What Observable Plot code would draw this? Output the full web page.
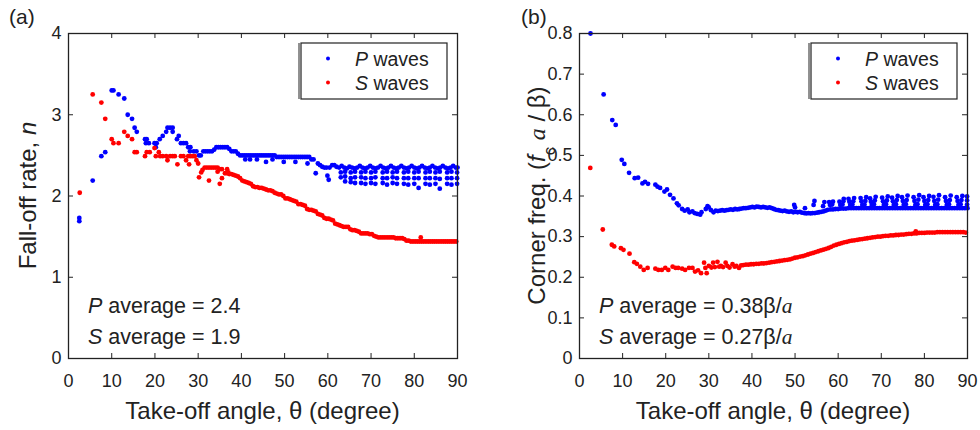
<!DOCTYPE html>
<html>
<head>
<meta charset="utf-8">
<script src="https://cdn.jsdelivr.net/npm/d3@7"></script>
<script src="https://cdn.jsdelivr.net/npm/@observablehq/plot@0.6"></script>
<style>
  html, body { margin: 0; padding: 0; background: #fff; }
  #wrap { position: relative; width: 980px; height: 430px; overflow: hidden; }
  .panel { position: absolute; top: 0; }
</style>
</head>
<body>
<div id="wrap"><div class="panel" id="pa" style="left:0px"></div><div class="panel" id="pb" style="left:490px"></div></div>
<script>
// ---------- tick labels ----------
const xTicks = [0, 10, 20, 30, 40, 50, 60, 70, 80, 90];
const yTicksA = [0, 1, 2, 3, 4];
const yTicksB = [0, 0.1, 0.2, 0.3, 0.4, 0.5, 0.6, 0.7, 0.8];

// ---------- (a) fall-off rate n vs take-off angle ----------
const fallP = [
[2.5,1.73],[2.5,1.69],[5.6,2.19],[7.6,2.49],[8.5,2.54],[10.0,3.30],[10.4,3.30],[11.6,3.25],[12.9,3.20],[13.7,3.00],
[14.7,2.95],[15.3,2.84],[15.8,2.79],[17.7,2.70],[17.9,2.65],[18.1,2.70],[18.6,2.65],[19.9,2.65],[20.2,2.60],[20.4,2.65],
[21.1,2.70],[21.8,2.74],[22.6,2.79],[22.9,2.84],[23.5,2.84],[24.1,2.84],[24.1,2.79],[25.1,2.70],[25.5,2.74],[26.0,2.65],
[26.6,2.65],[27.2,2.65],[27.7,2.60],[28.2,2.60],[28.1,2.55],[29.0,2.55],[29.6,2.55],[30.2,2.50],[30.6,2.50],
[31.2,2.55],[31.7,2.55],[32.2,2.55],[32.7,2.55],[33.2,2.55],[33.7,2.57],[34.2,2.60],[34.7,2.60],[35.2,2.60],[35.7,2.60],
[36.2,2.60],[36.7,2.60],[37.2,2.58],[37.7,2.55],[38.2,2.55],[38.7,2.55],[39.2,2.52],[39.7,2.50],
[40.2,2.50],[40.7,2.50],[40.9,2.45],[41.2,2.50],[41.7,2.50],[42.0,2.45],[42.2,2.50],[42.7,2.50],[43.2,2.50],[43.6,2.45],
[43.7,2.50],[44.2,2.50],[44.7,2.50],[45.2,2.50],[45.7,2.42],[45.7,2.50],[46.2,2.50],[46.7,2.50],[47.2,2.45],[47.2,2.50],
[47.7,2.50],[48.2,2.48],[48.7,2.48],[49.2,2.48],[49.8,2.42],[49.7,2.48],[50.2,2.48],[50.7,2.48],[51.2,2.48],[51.7,2.48],
[52.2,2.48],[52.5,2.42],[52.7,2.48],[53.2,2.48],[53.7,2.48],[54.2,2.48],[54.7,2.48],[55.3,2.40],[55.2,2.48],[55.7,2.48],
[56.2,2.45],[56.7,2.45],[57.2,2.28],[57.7,2.40],[58.2,2.38],[58.7,2.36],[59.2,2.35],[59.9,2.25],[59.7,2.35],[60.2,2.20],
[60.4,2.35],[61.0,2.38],[61.5,2.38],[62.0,2.36],
// upper band, 62-90
[62.6,2.35],[63.2,2.37],[63.8,2.35],[64.4,2.34],[65.0,2.36],[65.6,2.35],[66.2,2.34],[66.8,2.35],[67.4,2.37],[68.0,2.35],
[68.6,2.34],[69.2,2.35],[69.8,2.37],[70.4,2.35],[71.0,2.34],[71.6,2.35],[72.2,2.37],[72.8,2.35],[73.4,2.34],[74.0,2.35],
[74.6,2.37],[75.2,2.35],[75.8,2.34],[76.4,2.35],[77.0,2.37],[77.6,2.35],[78.2,2.34],[78.8,2.35],[79.4,2.37],[80.0,2.35],
[80.6,2.34],[81.2,2.35],[81.8,2.37],[82.4,2.35],[83.0,2.34],[83.6,2.35],[84.2,2.37],[84.8,2.35],[85.4,2.34],[86.0,2.35],
[86.6,2.37],[87.2,2.35],[87.8,2.34],[88.4,2.35],[89.0,2.37],[89.6,2.35],[90.0,2.35],
// downward comb legs
[63.0,2.29],[63.0,2.23],[64.0,2.30],[64.0,2.24],[64.0,2.18],
[65.3,2.29],[65.3,2.22],[65.3,2.17],[66.3,2.30],[66.3,2.23],[66.3,2.16],
[67.7,2.29],[67.7,2.23],[67.7,2.16],[68.7,2.30],[68.7,2.22],[68.7,2.15],
[70.0,2.29],[70.0,2.22],[70.0,2.16],[71.0,2.30],[71.0,2.23],[71.0,2.15],
[72.7,2.29],[72.7,2.22],[72.7,2.16],[73.7,2.30],[73.7,2.22],[73.7,2.14],
[75.0,2.29],[75.0,2.23],[75.0,2.16],[76.0,2.30],[76.0,2.22],[76.0,2.15],
[77.6,2.29],[77.6,2.22],[77.6,2.15],[78.6,2.30],[78.6,2.22],[78.6,2.14],
[80.0,2.29],[80.0,2.22],[80.0,2.15],[81.0,2.30],[81.0,2.22],[81.0,2.10],
[82.6,2.29],[82.6,2.22],[82.6,2.15],[83.6,2.30],[83.6,2.22],[83.6,2.14],
[84.9,2.29],[84.9,2.22],[84.9,2.15],[85.9,2.30],[85.9,2.21],[85.9,2.09],
[87.6,2.29],[87.6,2.22],[87.6,2.15],[88.6,2.30],[88.6,2.22],[88.6,2.14],
[89.9,2.29],[89.9,2.22],[89.9,2.15]
];

const fallS = [
[2.6,2.04],[5.6,3.25],[7.6,3.15],[8.5,2.95],[10.0,2.70],[10.4,2.65],[11.6,2.65],[12.9,2.79],[13.7,2.74],[14.7,2.70],
[15.3,2.54],[15.8,2.54],[17.7,2.49],[18.1,2.54],[18.8,2.54],[19.9,2.59],[20.2,2.49],[20.9,2.54],[21.2,2.49],[21.8,2.49],
[22.6,2.49],[22.9,2.44],[23.5,2.49],[24.1,2.49],[24.6,2.49],[25.2,2.39],[26.0,2.49],[26.6,2.49],[27.2,2.44],[27.7,2.49],
[28.2,2.49],[27.9,2.39],[28.7,2.49],[29.2,2.49],[29.6,2.44],[30.0,2.40],[30.2,2.23],[30.7,2.29],[31.0,2.32],
[31.5,2.35],[32.0,2.35],[32.5,2.35],[33.0,2.35],[33.5,2.35],[34.0,2.35],[34.5,2.35],[35.0,2.33],[35.5,2.33],
[32.5,2.19],[34.5,2.30],[35.0,2.15],[35.5,2.22],[36.7,2.33],[37.0,2.29],
[36.2,2.28],[36.7,2.28],[37.2,2.27],[37.7,2.27],[38.2,2.26],[38.7,2.25],[39.2,2.24],[39.7,2.22],
[40.2,2.19],[40.7,2.18],[41.2,2.17],[41.7,2.16],[42.2,2.15],
[42.7,2.12],[43.2,2.11],[43.7,2.11],[44.2,2.10],[44.7,2.10],[45.2,2.09],[45.7,2.08],[46.2,2.07],[46.7,2.07],[47.2,2.06],
[47.7,2.04],[48.2,2.03],[48.7,2.02],[49.2,2.02],[49.7,2.00],
[50.2,1.97],[50.7,1.97],[51.2,1.96],[51.7,1.95],[52.2,1.94],[52.7,1.93],
[53.2,1.90],[53.7,1.90],[54.2,1.89],[54.7,1.88],
[55.2,1.84],[55.7,1.83],[56.2,1.83],[56.7,1.82],[57.2,1.81],
[57.7,1.78],[58.2,1.77],[58.7,1.76],
[59.2,1.73],[59.7,1.72],[60.2,1.72],[60.7,1.71],[61.2,1.70],
[61.7,1.66],[62.2,1.65],[62.7,1.64],[63.2,1.63],[63.7,1.62],[64.2,1.62],[64.7,1.62],
[65.2,1.59],[65.7,1.58],[66.2,1.58],[66.7,1.57],[67.2,1.56],
[67.7,1.54],[68.2,1.54],[68.7,1.54],[69.2,1.54],[69.7,1.53],[70.2,1.53],
[70.7,1.51],[71.2,1.50],[71.7,1.49],[72.2,1.49],[72.7,1.49],[73.2,1.49],[73.7,1.49],[74.2,1.49],[74.7,1.49],[75.2,1.49],
[75.7,1.48],[76.2,1.48],[76.7,1.48],[77.2,1.48],[77.7,1.47],[78.2,1.45],
[78.7,1.45],[79.2,1.44],[79.7,1.44],[80.2,1.44],[80.7,1.44],[81.5,1.49],[81.2,1.44],[81.7,1.44],[82.2,1.44],[82.7,1.44],
[83.2,1.44],[83.7,1.44],[84.2,1.44],[84.7,1.44],[85.2,1.44],[85.7,1.44],[86.2,1.44],[86.7,1.44],[87.2,1.44],[87.7,1.44],
[88.2,1.44],[88.7,1.44],[89.2,1.44],[89.7,1.44]
];

// ---------- (b) corner frequency vs take-off angle ----------
const cornerP = [
[2.55,0.80],[5.6,0.65],[7.6,0.587],[8.4,0.575],[9.8,0.489],[10.4,0.479],[11.5,0.457],[12.8,0.444],[13.6,0.445],[14.6,0.431],
[15.2,0.435],[15.9,0.43],[17.6,0.428],[18.1,0.423],[18.7,0.42],[19.7,0.411],[20.3,0.416],[21.0,0.403],[21.8,0.394],[22.6,0.382],
[23.0,0.377],[23.8,0.368],[24.4,0.364],[25.1,0.367],[25.5,0.36],[26.2,0.362],[26.7,0.358],[27.3,0.356],[28.0,0.354],[28.3,0.36],
[29.3,0.368],[29.7,0.375],[30.0,0.372],[30.5,0.365],[31.1,0.36],
[31.6,0.364],[32.1,0.363],[32.6,0.364],[33.1,0.365],[33.6,0.364],[34.1,0.365],[34.6,0.366],[35.1,0.367],[35.6,0.366],[36.1,0.368],
[36.6,0.367],[37.1,0.368],[37.6,0.369],[38.1,0.370],[38.6,0.370],[39.1,0.371],
[39.6,0.372],[40.1,0.373],[40.6,0.372],[41.1,0.374],[41.6,0.373],[42.1,0.372],[42.6,0.373],[43.1,0.372],[43.6,0.371],[44.1,0.372],
[44.6,0.370],[45.1,0.368],
[45.6,0.366],[46.1,0.365],[46.6,0.364],[47.1,0.363],[47.6,0.364],[48.1,0.362],[48.6,0.361],[49.1,0.362],[49.6,0.360],[50.1,0.361],
[50.6,0.360],[51.1,0.361],[49.8,0.378],[50.0,0.372],
[51.6,0.359],[52.1,0.358],[52.6,0.357],[53.1,0.358],[53.6,0.357],[54.1,0.358],[54.6,0.358],[55.1,0.359],[55.6,0.360],[56.1,0.361],
[56.6,0.362],[57.1,0.364],[52.3,0.370],[54.3,0.378],[54.5,0.388],[56.5,0.375],[56.8,0.385],
// lower band 57.5-90
[57.6,0.366],[58.2,0.367],[58.8,0.367],[59.4,0.368],[60.0,0.368],[60.6,0.369],[61.2,0.369],[61.8,0.369],[62.4,0.370],[63.0,0.370],
[63.6,0.370],[64.2,0.370],[64.8,0.370],[65.4,0.370],[66.0,0.370],[66.6,0.370],[67.2,0.370],[67.8,0.370],[68.4,0.370],[69.0,0.370],
[69.6,0.370],[70.2,0.370],[70.8,0.370],[71.4,0.370],[72.0,0.370],[72.6,0.370],[73.2,0.370],[73.8,0.370],[74.4,0.370],[75.0,0.370],
[75.6,0.370],[76.2,0.370],[76.8,0.370],[77.4,0.370],[78.0,0.370],[78.6,0.370],[79.2,0.370],[79.8,0.370],[80.4,0.370],[81.0,0.370],
[81.6,0.370],[82.2,0.370],[82.8,0.370],[83.4,0.370],[84.0,0.370],[84.6,0.370],[85.2,0.370],[85.8,0.370],[86.4,0.370],[87.0,0.370],
[87.6,0.370],[88.2,0.370],[88.8,0.370],[89.4,0.370],[90.0,0.370],
// upward V-shaped combs
[58.1,0.378],[57.9,0.385],[58.6,0.379],[58.8,0.386],
[60.5,0.378],[60.3,0.386],[61.0,0.379],[61.2,0.387],[61.3,0.393],
[62.8,0.378],[62.6,0.386],[62.4,0.393],[63.3,0.379],[63.5,0.387],[63.7,0.395],
[65.6,0.378],[65.4,0.387],[65.2,0.395],[66.1,0.379],[66.3,0.388],[66.5,0.397],
[67.8,0.378],[67.6,0.386],[67.4,0.394],[68.3,0.380],[68.5,0.389],[68.7,0.398],
[70.6,0.378],[70.4,0.387],[70.2,0.396],[71.1,0.380],[71.3,0.389],[71.5,0.399],
[72.9,0.378],[72.7,0.387],[72.5,0.396],[73.4,0.380],[73.6,0.390],[73.8,0.400],
[75.2,0.378],[75.0,0.388],[74.8,0.397],[75.7,0.380],[75.9,0.390],[76.1,0.401],
[77.9,0.378],[77.7,0.388],[77.5,0.397],[78.4,0.380],[78.6,0.391],[78.8,0.402],
[80.2,0.378],[80.0,0.388],[79.8,0.397],[80.7,0.380],[80.9,0.390],[81.1,0.400],
[82.5,0.378],[82.3,0.388],[82.1,0.398],[83.0,0.380],[83.2,0.391],[83.4,0.402],
[85.2,0.378],[85.0,0.388],[84.8,0.397],[85.7,0.380],[85.9,0.390],[86.1,0.401],
[87.9,0.378],[87.7,0.388],[87.5,0.397],[88.4,0.380],[88.6,0.390],[88.8,0.400],
[89.9,0.379],[89.9,0.389],[89.9,0.399]
];

const cornerS = [
[2.5,0.469],[5.4,0.3175],[7.5,0.280],[8.05,0.276],[9.6,0.2715],[10.2,0.2675],[11.6,0.258],[12.7,0.237],[13.3,0.233],[14.1,0.226],
[14.9,0.218],[15.8,0.223],[17.6,0.221],[18.3,0.218],[19.1,0.218],[19.9,0.223],[20.6,0.218],[21.6,0.226],[22.3,0.223],[22.9,0.223],
[23.8,0.221],[24.5,0.218],[25.4,0.223],[26.2,0.223],[26.8,0.214],[27.5,0.217],[28.2,0.210],[28.9,0.236],[29.2,0.223],[29.5,0.210],
[30.0,0.228],[30.6,0.224],[31.0,0.236],[31.4,0.225],[32.0,0.238],[32.4,0.226],[32.8,0.228],[33.3,0.225],[33.9,0.236],[34.3,0.228],
[34.8,0.224],[35.5,0.232],[36.0,0.226],[36.4,0.228],[37.0,0.223],[37.5,0.229],
[38.0,0.230],[38.6,0.231],[39.2,0.231],[39.8,0.232],[40.4,0.232],[41.0,0.233],[41.6,0.233],[42.2,0.234],[42.8,0.234],[43.4,0.235],
[44.0,0.236],[44.6,0.237],[45.2,0.238],[45.8,0.239],[46.4,0.240],[47.0,0.241],[47.6,0.242],[48.2,0.243],[48.8,0.244],
[49.4,0.246],[50.0,0.248],[50.6,0.249],[51.2,0.251],[51.8,0.252],[52.4,0.254],
[53.0,0.256],[53.6,0.258],[54.2,0.260],[54.8,0.262],[55.4,0.264],[56.0,0.266],[56.6,0.268],[57.2,0.270],
[57.8,0.272],[58.4,0.275],[59.0,0.278],[59.6,0.280],[60.2,0.282],[60.8,0.284],[61.4,0.286],[62.0,0.287],
[62.6,0.289],[63.2,0.290],[63.8,0.291],[64.4,0.292],[65.0,0.293],[65.6,0.294],[66.2,0.295],[66.8,0.296],[67.4,0.297],[68.0,0.298],
[68.6,0.299],[69.2,0.300],[69.8,0.300],[70.4,0.301],[71.0,0.302],[71.6,0.302],[72.2,0.303],[72.8,0.303],[73.4,0.304],[74.0,0.304],
[74.6,0.305],[75.2,0.305],[75.8,0.306],
[76.4,0.307],[77.0,0.307],[77.6,0.308],[78.0,0.313],[78.2,0.308],[78.8,0.309],[79.4,0.309],[80.0,0.309],[80.6,0.310],[81.2,0.310],
[81.8,0.310],[82.4,0.310],[83.0,0.311],[83.6,0.311],[84.2,0.311],[84.8,0.311],[85.4,0.311],[86.0,0.311],[86.6,0.311],[87.2,0.311],
[87.8,0.311],[88.4,0.311],[89.0,0.311],[89.6,0.310]
];

const legendLabels = ["waves", "waves"];
const legendKeys = ["P", "S"];

// ---------- drawing ----------
const FONT = "'Liberation Sans', Arial, Helvetica, sans-serif";
const INK = "#222";
const W = 490, H = 430, MT = 33, MB = 72;

function makePanel(opt) {
  const fw = W - opt.ml - opt.mr, fh = H - MT - MB, tk = 5;
  const plot = Plot.plot({
    width: W, height: H,
    marginLeft: opt.ml, marginRight: opt.mr, marginTop: MT, marginBottom: MB,
    x: {domain: [0, 90]},
    y: {domain: opt.yDomain},
    style: {fontFamily: FONT, fontSize: "18px", color: INK, background: "white", overflow: "visible"},
    marks: [
      Plot.ruleX(xTicks, {x: d => d, insetTop: fh - tk, stroke: INK}),
      Plot.ruleX(xTicks, {x: d => d, insetBottom: fh - tk, stroke: INK}),
      Plot.ruleY(opt.yTicks, {y: d => d, insetLeft: fw - tk, stroke: INK}),
      Plot.ruleY(opt.yTicks, {y: d => d, insetRight: fw - tk, stroke: INK}),
      Plot.axisX(xTicks, {tickSize: 0, tickPadding: 16, label: null, tickFormat: d => String(d)}),
      Plot.axisY(opt.yTicks, {tickSize: 0, tickPadding: 7, label: null, tickFormat: d => String(d)}),
      Plot.dot(opt.P, {x: d => d[0], y: d => d[1], r: 2.4, fill: "#0000ff", stroke: "none"}),
      Plot.dot(opt.S, {x: d => d[0], y: d => d[1], r: 2.4, fill: "#ff0000", stroke: "none"}),
      Plot.frame({stroke: INK, strokeWidth: 1.3})
    ]
  });
  const svg = d3.select(plot);
  const fx0 = opt.ml, fx1 = W - opt.mr, fy0 = MT, fy1 = H - MB;

  function rich(x, y, parts, size, anchor, transform) {
    const t = svg.append("text").attr("x", x).attr("y", y)
      .attr("font-family", FONT).attr("font-size", size).attr("fill", INK)
      .attr("text-anchor", anchor || "start");
    if (transform) t.attr("transform", transform);
    parts.forEach(p => {
      const s = t.append("tspan").text(p.t);
      if (p.i) s.attr("font-style", "italic");
      if (p.sub) s.attr("baseline-shift", "sub").attr("font-size", size * 0.7);
      if (p.serif) s.attr("font-family", "'Liberation Serif', 'DejaVu Serif', serif");
    });
    return t;
  }

  // panel tag
  rich(opt.tagX, 24, [{t: opt.tag}], 21);
  // x label
  rich((fx0 + fx1) / 2, 419, [{t: "Take-off angle, θ (degree)"}], 24, "middle");
  // y label
  rich(0, 0, opt.ylabel, 24, "middle", `translate(${opt.ylabX},${(fy0 + fy1) / 2}) rotate(-90)`);

  // legend box
  const lw = 146, lh = 56, lx = fx1 - 10 - lw, ly = fy0 + 10;
  svg.append("rect").attr("x", lx).attr("y", ly).attr("width", lw).attr("height", lh)
    .attr("fill", "white").attr("stroke", INK).attr("stroke-width", 1.2);
  svg.append("line").attr("x1", lx - 2).attr("x2", lx - 2).attr("y1", ly).attr("y2", ly + lh)
    .attr("stroke", INK).attr("stroke-width", 1);
  const cols = ["#0000ff", "#ff0000"];
  legendKeys.forEach((k, i) => {
    const cy = ly + 15.5 + i * 24;
    svg.append("circle").attr("cx", lx + 27).attr("cy", cy).attr("r", 2).attr("fill", cols[i]);
    rich(lx + 54, cy + 7, [{t: k, i: true}, {t: " " + legendLabels[i]}], 19.5);
  });

  // annotations
  rich(fx0 + 20, 313, opt.noteP, 21.5);
  rich(fx0 + 20, 344, opt.noteS, 21.5);
  return plot;
}

document.getElementById("pa").appendChild(makePanel({
  ml: 68, mr: 33, yDomain: [0, 4], yTicks: yTicksA, P: fallP, S: fallS,
  tag: "(a)", tagX: 9, ylabX: 36,
  ylabel: [{t: "Fall-off rate, "}, {t: "n", i: true}],
  noteP: [{t: "P", i: true}, {t: " average = 2.4"}],
  noteS: [{t: "S", i: true}, {t: " average = 1.9"}]
}));

document.getElementById("pb").appendChild(makePanel({
  ml: 89, mr: 13, yDomain: [0, 0.8], yTicks: yTicksB, P: cornerP, S: cornerS,
  tag: "(b)", tagX: 31, ylabX: 55,
  ylabel: [{t: "Corner freq. ("}, {t: "f", i: true}, {t: "c", sub: true}, {t: " "}, {t: "a", i: true, serif: true}, {t: " / β)"}],
  noteP: [{t: "P", i: true}, {t: " average = 0.38β/"}, {t: "a", i: true, serif: true}],
  noteS: [{t: "S", i: true}, {t: " average = 0.27β/"}, {t: "a", i: true, serif: true}]
}));
</script>
</body>
</html>
